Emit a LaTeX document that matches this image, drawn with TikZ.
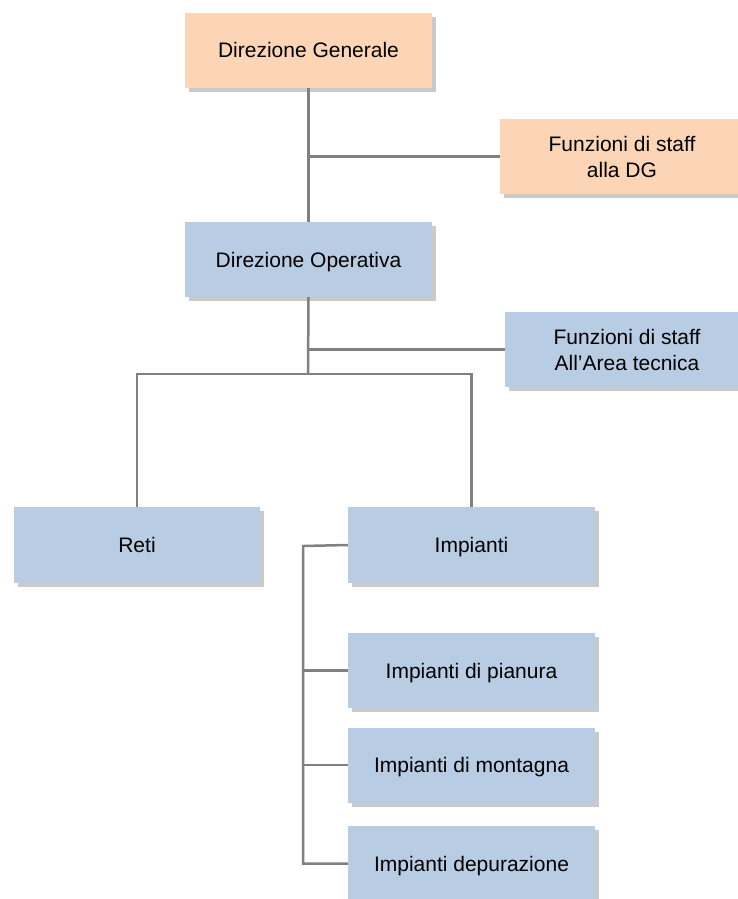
\documentclass[tikz,border=0pt]{standalone}
\usepackage{fontspec}
\setmainfont{Liberation Sans}
\usetikzlibrary{shadows}
\definecolor{peach}{RGB}{251,213,181}
\definecolor{paleblue}{RGB}{184,204,228}
\definecolor{linegray}{RGB}{128,128,128}
\tikzset{
  orgbox/.style={draw=none, minimum height=75pt, inner sep=0pt, align=center,
    font=\fontsize{21}{26}\selectfont,
    drop shadow={shadow xshift=4pt, shadow yshift=-4pt, opacity=0.35, fill=black!60}},
  oneline/.style={text height=15pt, text depth=0pt},
  orangebox/.style={orgbox, fill=peach},
  bluebox/.style={orgbox, fill=paleblue},
  conn/.style={draw=linegray, line width=2.5pt}
}
\begin{document}
\begin{tikzpicture}[x=1pt,y=-1pt]
\useasboundingbox (0,0) rectangle (738,899);
\clip (0,0) rectangle (738,899);
\node[orangebox, oneline, minimum width=247pt] (dg) at (308.5,50.5) {Direzione Generale};
\node[orangebox, minimum width=244pt] (sdg) at (622,156.5) {Funzioni di staff\\alla DG};
\node[bluebox, oneline, minimum width=247pt] (do) at (308.5,259.5) {Direzione Operativa};
\node[bluebox, minimum width=244pt] (sat) at (627,349.5) {Funzioni di staff\\All’Area tecnica};
\node[bluebox, oneline, minimum width=246pt, minimum height=76pt] (reti) at (137,545) {Reti};
\node[bluebox, oneline, minimum width=247pt, minimum height=76pt] (imp) at (471.5,545) {Impianti};
\node[bluebox, oneline, minimum width=247pt] (pian) at (471.5,670.5) {Impianti di pianura};
\node[bluebox, oneline, minimum width=247pt] (mont) at (471.5,765) {Impianti di montagna};
\node[bluebox, oneline, minimum width=247pt] (dep) at (471.5,863.5) {Impianti depurazione};
\coordinate (br) at (308,374);
\coordinate (spine) at (303,546);
\draw[conn] (dg.south) -- (do.north);
\draw[conn] (dg.south |- sdg.west) -- (sdg.west);
\draw[conn] (do.south) -- (br);
\draw[conn] (do.south |- sat.west) -- (sat.west);
\draw[conn] (reti.north) -- (reti.north |- br) -- (imp.north |- br) -- (imp.north);
\draw[conn] (imp.west) -- (spine) -- (spine |- dep.west) -- (dep.west);
\draw[conn] (spine |- pian.west) -- (pian.west);
\draw[conn] (spine |- mont.west) -- (mont.west);
\end{tikzpicture}
\end{document}
